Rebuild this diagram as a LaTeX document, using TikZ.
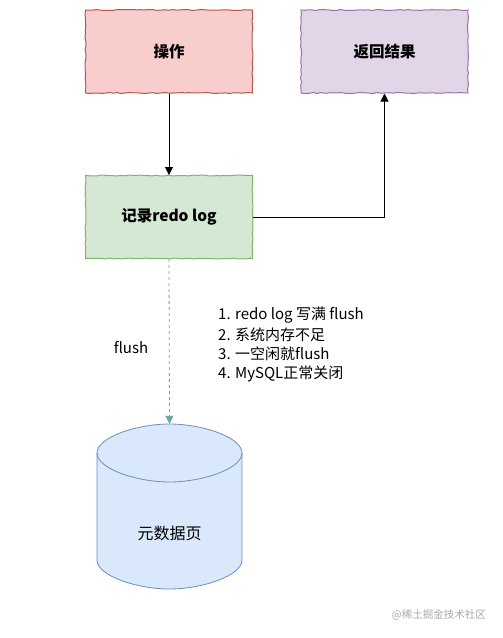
\documentclass[tikz,border=0pt]{standalone}
\usepackage{fontspec}
\setmainfont{Noto Sans CJK SC}
\usetikzlibrary{arrows.meta,decorations.pathmorphing}
\definecolor{redfill}{HTML}{F8CECC}
\definecolor{redline}{HTML}{B85450}
\definecolor{purfill}{HTML}{E1D5E7}
\definecolor{purline}{HTML}{9673A6}
\definecolor{grnfill}{HTML}{D5E8D4}
\definecolor{grnline}{HTML}{82B366}
\definecolor{blufill}{HTML}{DAE8FC}
\definecolor{bluline}{HTML}{6C8EBF}
\definecolor{flushcol}{HTML}{67AB9F}
\definecolor{wmark}{HTML}{A8A8A8}
\begin{document}
\begin{tikzpicture}[x=1pt,y=-1pt,
  box/.style={minimum width=167pt,minimum height=83pt,inner sep=0pt,
    font=\fontsize{15.5}{18}\selectfont\bfseries,line width=1pt,
    decorate,decoration={random steps,segment length=4pt,amplitude=0.5pt}},
  arr/.style={line width=1pt,-{Triangle[length=8pt,width=8pt]}},
  lbl/.style={font=\fontsize{15}{17}\selectfont,inner sep=0pt}]
\useasboundingbox (0,0) rectangle (503,638);
\node[box,draw=redline,fill=redfill] (op) at (169,51.5) {操作};
\node[box,draw=purline,fill=purfill] (ret) at (384.5,51.5) {返回结果};
\node[box,draw=grnline,fill=grnfill] (log) at (169,217) {记录redo log};
% cylinder
\node[minimum width=145pt,minimum height=165pt,inner sep=0pt] (db) at (169.5,506.5) {};
\filldraw[fill=blufill,draw=bluline,line width=0.8pt]
  (97,453) -- (97,560)
  .. controls (97,576) and (137.5,589) .. (169.5,589)
  .. controls (201.5,589) and (242,576) .. (242,560)
  -- (242,453)
  .. controls (242,437) and (201.5,424) .. (169.5,424)
  .. controls (137.5,424) and (97,437) .. (97,453) -- cycle;
\draw[bluline,line width=0.8pt] (97,453)
  .. controls (97,469) and (137.5,482) .. (169.5,482)
  .. controls (201.5,482) and (242,469) .. (242,453);
\node[font=\fontsize{16}{18}\selectfont] (dbt) at (169.5,533) {元数据页};
% connectors
\draw[arr] (op.south) -- (log.north);
\draw[arr] (log.east) -| (ret.south);
\draw[arr,flushcol,dashed,line width=0.8pt] (log.south) -- (db.north);
\node[lbl,anchor=center] (fl) at (131,348) {flush};
\node[lbl,anchor=west] (l1) at (218,315) {1. redo log 写满 flush};
\node[lbl,anchor=west] (l2) at (218,334.5) {2. 系统内存不足};
\node[lbl,anchor=west] (l3) at (218,354) {3. 一空闲就flush};
\node[lbl,anchor=west] (l4) at (218,373.5) {4. MySQL正常关闭};
\node[font=\fontsize{10.5}{12}\selectfont,text=wmark,anchor=east,inner sep=0pt] (wm) at (486,615) {@稀土掘金技术社区};
\end{tikzpicture}
\end{document}
